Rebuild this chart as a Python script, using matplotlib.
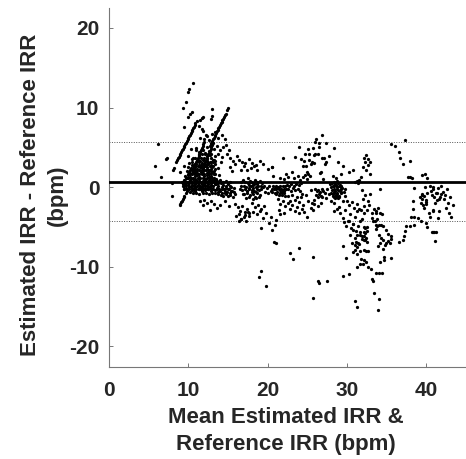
import matplotlib
matplotlib.use("Agg")
import matplotlib.pyplot as plt

plt.rcParams['font.family'] = ['Liberation Sans', 'DejaVu Sans']
plt.rcParams['axes.unicode_minus'] = False

# mean difference and limits of agreement
mean_diff = 0.7
upper_loa = 5.65
lower_loa = -4.3

# points, one list per region
sparse_left_x = [5.8, 6.17, 6.54, 7.21, 7.34, 7.97, 7.97, 8.1, 8.18, 9.35, 9.44, 9.69, 9.98, 9.98, 10.1, 10.23, 10.4, 10.61, 11.53, 11.66, 11.87, 12.9, 13.0, 13.04]
sparse_left_y = [2.68, 5.4, 1.25, 3.56, 3.68, 0.5, -1.14, 2.2, 2.35, 9.97, 7.58, 10.65, 8.76, 11.9, 12.3, 9.2, 9.4, 13.12, 8.42, 8.7, 8.76, 8.5, 9.76, 8.93]

streak_a_x = [8.5, 8.6, 8.7, 8.8, 8.9, 9.0, 9.1, 9.2, 9.3, 9.4, 9.5, 9.6, 9.7, 9.8, 9.9, 10.0, 10.1, 10.2, 10.3, 10.4, 10.5, 10.6, 10.7, 10.8, 10.9, 11.05]
streak_a_y = [3.15, 3.35, 3.6, 3.8, 4.0, 4.2, 4.4, 4.6, 4.8, 5.0, 5.2, 5.4, 5.6, 5.8, 6.0, 6.2, 6.4, 6.6, 6.8, 7.0, 7.2, 7.4, 7.6, 7.8, 8.0, 8.25]
streak_b_x = [8.9, 9.0, 9.1, 9.2, 9.3, 9.4, 9.5, 9.65, 12.7, 12.8, 12.9, 13.0, 13.1, 13.2, 13.3, 13.4, 13.5, 13.6, 13.7, 13.8, 13.9, 14.0, 14.1, 14.2, 14.3, 14.4, 14.5, 14.6, 14.7, 14.85, 15.0]
streak_b_y = [-2.3, -2.1, -1.9, -1.7, -1.5, -1.3, -1.1, -0.8, 5.2, 5.4, 5.6, 5.8, 6.0, 6.2, 6.4, 6.6, 6.8, 7.0, 7.2, 7.4, 7.6, 7.8, 8.0, 8.2, 8.4, 8.6, 8.8, 9.0, 9.2, 9.7, 10.0]
streak_c_x = [10.6, 10.7, 10.8, 10.9, 11.0, 11.1, 11.2, 11.3, 11.4, 11.5, 11.6, 11.7, 11.8, 11.9, 12.0, 11.7, 11.8, 11.9, 12.0, 12.1, 12.2, 12.3, 12.4, 12.5, 12.6, 12.7, 12.8, 12.9, 13.0, 13.1]
streak_c_y = [2.2, 2.45, 2.7, 2.95, 3.2, 3.45, 3.7, 3.95, 4.2, 4.45, 4.7, 4.95, 5.2, 5.45, 5.7, 2.2, 2.45, 2.7, 2.95, 3.2, 3.4, 3.6, 3.85, 4.1, 4.3, 4.5, 4.75, 5.0, 5.25, 5.5]

above_blob_x = [11.4, 11.7, 11.9, 12.2, 12.4, 11.5, 12.0, 12.6, 13.0, 13.4, 13.7, 14.2, 14.6, 12.3, 12.8, 13.2, 13.6, 14.0, 14.4, 14.8, 15.1, 11.0, 11.3, 12.1, 12.7, 13.3, 13.8, 14.3, 14.9, 15.3, 15.6, 15.9, 16.1, 16.4, 16.8, 17.2, 17.6, 18.0, 18.5, 19.0, 19.4, 20.0, 20.6, 16.6, 17.0, 17.4, 17.9, 18.3, 18.7, 15.2, 15.5, 14.1, 13.1, 10.3, 9.9, 10.6, 9.4, 9.0]
above_blob_y = [7.7, 7.3, 7.0, 6.6, 6.4, 6.2, 6.1, 5.9, 6.7, 6.9, 6.2, 6.6, 6.0, 5.1, 5.3, 4.8, 5.2, 4.6, 5.1, 5.3, 4.7, 4.9, 4.4, 4.3, 4.0, 3.9, 4.2, 3.8, 4.2, 3.6, 3.3, 2.9, 3.9, 3.4, 3.2, 3.0, 3.5, 3.0, 2.8, 3.3, 2.9, 2.3, 2.5, 2.1, 2.6, 2.1, 2.4, 2.7, 2.2, 2.5, 2.0, 3.2, 3.4, 4.8, 3.9, 3.6, 2.6, 1.9]

blob_x = [9.2, 9.4, 9.6, 9.8, 10.0, 10.2, 10.4, 10.6, 10.8, 11.0, 11.2, 11.4, 11.6, 11.8, 12.0, 12.2, 12.4, 12.6, 12.8, 13.0, 13.2,
          9.3, 9.5, 9.7, 9.9, 10.1, 10.3, 10.5, 10.7, 10.9, 11.1, 11.3, 11.5, 11.7, 11.9, 12.1, 12.3, 12.5, 12.7, 12.9, 13.1,
          9.6, 9.9, 10.2, 10.5, 10.8, 11.1, 11.4, 11.7, 12.0, 12.3, 12.6, 12.9, 13.2, 13.5,
          9.8, 10.1, 10.4, 10.7, 11.0, 11.3, 11.6, 11.9, 12.2, 12.5, 12.8, 13.1, 13.4,
          10.0, 10.3, 10.6, 10.9, 11.2, 11.5, 11.8, 12.1, 12.4, 12.7, 13.0, 13.3,
          10.1, 10.5, 10.9, 11.3, 11.7, 12.1, 12.5, 12.9, 13.3,
          10.4, 10.8, 11.2, 11.6, 12.0, 12.4, 12.8, 13.2,
          10.5, 10.9, 11.3, 11.7, 12.1, 12.5, 12.9, 13.3, 13.6,
          9.4, 9.8, 10.2, 10.6, 11.0, 11.4, 11.8, 12.2, 12.6, 13.0, 13.4,
          9.3, 9.7, 10.1, 10.5, 10.9, 11.3, 11.7, 12.1, 12.5, 12.9, 13.3, 13.7]
blob_y = [0.6, 0.9, 0.5, 1.1, 0.7, 0.9, 0.5, 1.0, 0.6, 0.9, 0.5, 1.0, 0.6, 0.8, 0.5, 1.0, 0.6, 0.9, 0.5, 0.9, 0.6,
          0.1, 0.2, -0.1, 0.3, 0.0, 0.2, -0.1, 0.2, 0.0, 0.1, -0.1, 0.2, 0.0, 0.2, -0.1, 0.1, 0.0, 0.2, -0.1, 0.1,
          1.4, 1.5, 1.3, 1.6, 1.4, 1.5, 1.3, 1.6, 1.4, 1.5, 1.3, 1.4, 1.2, 1.0,
          2.0, 1.9, 2.1, 1.9, 2.0, 2.1, 1.9, 2.0, 2.1, 1.9, 2.0, 1.8, 1.6,
          2.5, 2.4, 2.6, 2.5, 2.7, 2.5, 2.6, 2.7, 2.5, 2.6, 2.5, 2.3,
          3.0, 3.1, 2.9, 3.1, 3.0, 3.2, 3.0, 3.1, 2.9,
          3.5, 3.6, 3.4, 3.7, 3.6, 3.5, 3.7, 3.4,
          -0.4, -0.5, -0.3, -0.5, -0.4, -0.3, -0.5, -0.4, -0.2,
          -0.3, -0.5, -0.6, -0.8, -0.7, -0.9, -0.7, -0.8, -0.9, -0.7, -0.8,
          0.4, 0.3, 0.5, 0.3, 0.4, 0.3, 0.4, 0.3, 0.4, 0.3, 0.4, 0.5]
blob_fill_x = [9.7, 10.0, 10.3, 10.6, 10.9, 11.2, 11.5, 11.8, 12.1, 12.4, 12.7, 13.0, 13.3,
               9.9, 10.2, 10.5, 10.8, 11.1, 11.4, 11.7, 12.0, 12.3, 12.6, 12.9, 13.2,
               10.2, 10.5, 10.8, 11.1, 11.4, 11.7, 12.0, 12.3, 12.6, 12.9, 13.2,
               10.4, 10.7, 11.0, 11.3, 11.6, 11.9, 12.2, 12.5, 12.8, 13.1,
               9.6, 9.9, 10.2, 10.5, 10.8, 11.1, 11.4, 11.7, 12.0, 12.3, 12.6, 12.9, 13.2,
               9.5, 9.8, 10.1, 10.4, 10.7, 11.0, 11.3, 11.6, 11.9, 12.2, 12.5, 12.8, 13.1,
               11.1, 11.5, 11.9, 12.3, 12.7, 13.1, 11.3, 11.7, 12.1, 12.5, 12.9, 11.0, 11.8, 12.6, 13.4, 13.7, 13.9]
blob_fill_y = [1.1, 1.2, 1.1, 1.2, 1.0, 1.2, 1.1, 1.2, 1.0, 1.2, 1.1, 1.2, 0.9,
               1.7, 1.7, 1.8, 1.7, 1.8, 1.7, 1.8, 1.7, 1.8, 1.7, 1.8, 1.6,
               2.2, 2.3, 2.2, 2.3, 2.2, 2.4, 2.2, 2.3, 2.2, 2.3, 2.0,
               2.8, 2.8, 2.9, 2.8, 2.8, 2.9, 2.8, 2.9, 2.8, 2.7,
               0.8, 0.7, 0.8, 0.7, 0.8, 0.7, 0.8, 0.7, 0.8, 0.7, 0.8, 0.7, 0.8,
               -0.2, -0.3, -0.2, -0.4, -0.2, -0.3, -0.2, -0.3, -0.2, -0.3, -0.2, -0.3, -0.2,
               3.3, 3.3, 3.4, 3.3, 3.2, 3.2, 4.0, 4.1, 4.2, 4.0, 4.1, 4.6, 4.7, 4.5, 3.3, 2.4, 1.5]

band_mid_x = [13.5, 13.8, 14.1, 14.4, 14.7, 15.0, 15.3, 13.6, 13.9, 14.2, 14.5, 14.8, 15.1, 15.4, 15.7, 13.7, 14.0, 14.3, 14.6, 14.9, 15.2, 15.5, 15.8, 14.1, 14.4, 14.7, 15.0, 15.3, 15.6, 15.9, 12.0, 12.4, 12.9, 11.8, 13.2, 13.6, 11.5, 12.7, 14.0, 14.6, 15.1,
              16.6, 16.9, 17.2, 17.5, 17.8, 18.1, 18.4, 18.7, 19.0, 19.3, 16.7, 17.0, 17.3, 17.6, 17.9, 18.2, 18.5, 18.8, 19.1, 19.4, 16.8, 17.1, 17.4, 17.7, 18.0, 18.3, 18.6, 18.9, 19.2, 17.0, 17.4, 17.8, 18.2, 18.6, 19.0, 17.3, 17.7, 18.1, 18.5, 18.9, 16.5, 16.9, 19.6, 19.9, 20.2, 20.5, 19.7, 20.1, 20.4,
              13.6, 14.0, 14.4, 14.8, 15.2, 13.8, 14.2, 14.6, 15.0, 15.4, 17.5, 17.9, 18.3, 18.7, 17.7, 18.1, 18.5, 18.0, 18.4]
band_mid_y = [0.4, 0.2, 0.5, 0.3, 0.1, 0.4, 0.2, -0.1, -0.2, 0.0, -0.3, -0.1, -0.2, 0.0, -0.1, -0.6, -0.5, -0.7, -0.5, -0.6, -0.7, -0.5, -0.6, -1.0, -1.1, -0.9, -1.1, -1.0, -1.2, -0.9, -1.6, -2.0, -1.7, -2.3, -2.1, -2.6, -1.8, -2.9, -2.2, -1.7, -2.4,
              0.6, 0.9, 0.7, 1.1, 0.8, 0.5, 0.9, 0.6, 0.8, 0.5, 0.1, 0.2, 0.0, 0.3, 0.1, 0.3, 0.0, 0.2, 0.1, 0.0, -0.4, -0.3, -0.5, -0.3, -0.4, -0.5, -0.3, -0.4, -0.3, -0.9, -0.8, -1.0, -0.9, -0.8, -1.0, -1.4, -1.3, -1.5, -1.4, -1.3, -0.2, -0.9, 0.2, -0.1, 0.1, -0.2, -0.6, -0.7, -0.5,
              0.8, 0.9, 0.7, 0.8, 0.6, -0.9, -0.3, -0.8, -0.3, -0.5, 0.5, 0.6, 0.4, 0.4, -0.1, -0.1, -0.6, -0.6, -1.2]

low_mid_x = [15.9, 16.2, 16.5, 16.8, 17.1, 17.4, 17.7, 16.0, 16.4, 16.7, 17.0, 17.3, 17.6, 18.0, 18.4, 18.8, 19.2, 19.6, 18.2, 18.6, 19.0, 19.4, 19.8, 20.2, 20.4, 16.4, 16.6, 17.1, 17.5, 20.6, 20.9, 21.1, 21.5, 20.8, 19.1]
low_mid_y = [-2.1, -2.5, -3.0, -2.4, -3.1, -2.7, -3.3, -3.6, -3.4, -4.0, -3.8, -4.2, -3.6, -2.0, -2.5, -2.2, -2.8, -2.4, -3.1, -3.4, -3.0, -3.9, -3.3, -4.5, -3.7, -4.2, -4.0, -3.5, -3.1, -5.4, -4.7, -4.1, -3.4, -6.87, -5.1]
outlier_x = [21.1, 22.8, 23.2, 24.0, 25.66, 26.4, 26.5, 27.5, 25.66, 29.55, 29.85, 31.6, 31.2, 30.2, 29.5, 31.0, 31.3, 33.4, 34.05, 33.9, 19.2, 19.8, 18.9]
outlier_y = [-7.0, -8.3, -9.05, -7.7, -8.84, -11.8, -12.0, -11.8, -13.96, -7.4, -8.9, -9.7, -10.1, -10.9, -11.15, -14.3, -15.0, -13.3, -14.1, -15.4, -10.6, -12.4, -11.3]

upper_mid_x = [26.8, 26.1, 26.0, 26.5, 27.4, 23.9, 25.1, 25.7, 26.5, 28.3, 24.7, 25.15, 25.9, 26.3, 26.0, 27.7, 26.8, 27.1, 21.9, 23.4, 24.15, 24.6, 25.2, 25.6, 25.8, 25.5, 27.3, 27.2, 28.9, 24.45, 24.8, 29.5, 20.5, 26.75, 26.55, 24.9, 25.1, 24.65, 25.3, 23.1, 22.35, 22.55, 23.8, 24.45, 20.7, 30.2, 30.7, 29.3, 28.2, 32.4, 32.2, 32.6, 32.95, 32.3, 32.6, 32.0, 32.4, 32.95, 31.8, 31.25, 31.5, 31.35, 31.05, 21.5, 22.0, 23.3, 24.1, 25.0, 27.0, 28.6]
upper_mid_y = [6.6, 6.1, 5.7, 5.6, 5.5, 5.1, 4.8, 4.9, 5.0, 4.9, 4.2, 4.1, 4.0, 4.2, 4.1, 3.9, 3.6, 3.6, 3.7, 3.8, 3.5, 3.3, 3.4, 3.2, 3.0, 2.9, 3.1, 2.85, 3.1, 2.6, 2.65, 2.6, 2.5, 1.9, 1.8, 1.9, 1.7, 1.5, 1.4, 1.85, 1.65, 1.3, 1.4, 1.3, 1.4, 1.85, 2.2, 1.65, 1.4, 4.0, 3.7, 3.5, 3.2, 3.1, 2.8, 2.5, 2.15, 1.7, 1.3, 0.76, 0.9, 0.55, 0.7, 1.2, 1.0, 1.1, 0.9, 1.0, 1.0, 1.2]

band_right_x = [20.7, 21.0, 21.3, 21.6, 21.9, 22.2, 20.8, 21.1, 21.4, 21.7, 22.0, 22.3, 20.6, 20.9, 21.2, 21.5, 21.8, 22.1, 22.4, 22.7, 23.0, 23.3, 23.6, 23.9, 24.2, 22.6, 22.9, 23.2, 23.5, 23.8, 24.1, 22.5, 23.1, 23.7, 24.3, 22.8, 23.4, 24.0, 21.3, 21.6, 21.9, 22.2, 22.5, 22.8, 23.1, 23.4, 23.7, 24.0, 24.3, 24.6, 24.9, 21.4, 22.0, 24.2, 24.5, 24.8, 25.1, 25.4,
                26.0, 26.2, 26.4, 26.6, 26.8, 27.0, 26.1, 26.3, 26.5, 26.7, 26.9, 25.6, 25.8, 27.2, 27.4, 25.9, 26.3, 26.7, 25.4, 25.7,
                27.9, 28.1, 28.3, 28.5, 28.7, 28.9, 29.1, 29.3, 28.0, 28.2, 28.4, 28.6, 28.8, 29.0, 29.2, 29.4, 28.1, 28.3, 28.5, 28.7, 28.9, 29.1, 29.3, 28.2, 28.4, 28.6, 28.8, 29.0, 29.2, 28.3, 28.5, 28.7, 28.9, 27.7, 27.5, 29.6, 29.8, 29.7, 28.0, 29.5, 28.4, 29.0,
                20.9, 21.2, 21.5, 21.8, 22.1, 21.0, 21.4, 21.8, 22.2, 28.0, 28.4, 28.8, 29.2, 28.2, 28.6, 29.0]
band_right_y = [0.1, 0.2, 0.0, 0.2, 0.1, 0.2, -0.2, -0.3, -0.2, -0.3, -0.2, -0.3, -0.6, -0.7, -0.6, -0.7, -0.6, -0.8, 0.3, 0.1, 0.4, 0.2, 0.4, 0.3, 0.5, -0.2, -0.5, -0.1, -0.4, -0.2, -0.5, -1.1, -1.0, -1.3, -0.9, -1.7, -1.6, -1.9, -1.5, -2.1, -1.7, -2.4, -2.0, -2.8, -2.3, -3.0, -2.5, -3.3, -2.8, -3.1, -3.7, -2.9, -3.2, -1.3, -2.2, -1.0, -1.8, -0.4,
                -0.3, -0.5, -0.4, -0.6, -0.3, -0.5, -1.0, -1.2, -0.9, -1.1, -1.3, -2.0, -1.6, -0.8, -1.4, -2.1, -2.4, -2.0, -2.6, -2.9,
                0.4, 0.5, 0.7, 0.4, 0.8, 0.5, 0.3, 0.1, 0.0, 0.2, 0.1, 0.3, 0.0, 0.2, 0.0, -0.1, -0.4, -0.3, -0.5, -0.3, -0.4, -0.5, -0.3, -0.9, -0.8, -1.0, -0.9, -1.1, -0.8, -1.3, -1.4, -1.2, -1.4, -0.9, -0.2, -0.6, -1.1, -0.2, -1.8, -1.7, -2.0, -2.5,
                -0.1, -0.1, -0.4, -0.4, -0.5, -0.9, -1.0, -1.0, -1.1, -0.7, -0.6, -0.7, -0.6, -1.1, -1.1, -1.2]

drop_x = [28.3, 28.7, 29.1, 29.5, 29.8, 30.1, 30.4, 30.7, 31.0, 31.3, 30.0, 30.3, 30.6, 30.9, 31.2, 31.5, 29.6, 29.9, 30.2, 30.5, 30.8, 31.1, 31.4, 31.7, 30.4, 30.7, 31.0, 31.3, 31.6, 31.9, 30.6, 31.0, 31.4, 31.0, 31.3, 30.8, 31.2, 31.6, 31.1, 31.5, 31.9, 32.2, 31.8, 32.0, 32.3, 32.6, 32.9, 31.9, 32.2, 32.5, 32.8, 33.1, 33.4, 33.7, 33.3, 33.6, 33.8, 32.1, 32.3, 32.5, 32.1, 32.3, 32.5, 32.2, 32.4, 32.1, 32.3, 32.5, 31.9, 32.2, 32.4, 32.6, 31.8, 32.0, 31.7, 32.2, 32.4, 32.6]
drop_y = [-3.0, -2.7, -3.3, -3.9, -2.9, -4.3, -3.4, -4.6, -3.8, -3.0, -1.7, -2.3, -1.9, -2.6, -2.1, -2.7, -4.4, -4.9, -4.2, -5.1, -4.6, -5.5, -4.9, -4.3, -6.0, -5.4, -6.4, -6.0, -5.6, -6.5, -7.0, -7.3, -7.0, -7.9, -7.5, -8.1, -8.4, -8.0, -6.9, -7.2, -4.0, -3.3, -2.9, -1.5, -1.0, -1.7, -0.9, -0.4, -2.4, -2.9, -2.3, -3.2, -2.7, -3.3, -4.3, -4.7, -4.9, -5.0, -5.2, -5.0, -5.6, -5.8, -5.5, -6.2, -6.4, -6.7, -6.6, -6.9, -6.2, -7.9, -8.0, -8.0, -9.0, -9.6, -6.0, -9.2, -9.4, -10.0]

right_low_x = [33.05, 33.15, 33.3, 33.7, 34.0, 34.4, 34.2, 34.7, 34.7, 35.6, 33.2, 33.5, 33.8, 34.1, 34.4, 33.7, 34.0, 34.3, 34.6, 34.9, 35.2, 35.5, 34.0, 34.3, 34.6, 34.9, 35.2, 35.5, 33.9, 34.2, 34.5, 34.8, 35.4, 36.5, 33.6, 33.9, 34.1]
right_low_y = [-10.35, -11.5, -11.8, -10.85, -10.8, -10.8, -9.4, -8.75, -9.2, -8.85, -3.9, -4.2, -4.0, -0.2, -3.4, -5.3, -4.7, -4.8, -4.9, -5.4, -5.9, -6.2, -6.0, -6.4, -6.6, -7.0, -6.8, -6.5, -7.4, -7.0, -7.8, -7.3, -7.0, -6.9, -3.0, -2.6, -3.3]

far_right_x = [35.6, 36.05, 36.5, 36.7, 37.0, 37.3, 37.95, 37.65, 38.0, 38.15, 38.5, 38.3, 38.35, 38.1, 38.4, 37.45, 37.9, 38.4, 37.35, 37.2, 37.1, 39.45, 39.8, 40.05, 39.85, 40.45, 40.8, 39.2, 39.4, 39.5, 39.7, 39.9, 40.1, 39.3, 39.6, 39.9, 39.4, 39.7, 40.0, 40.6, 40.9, 41.2, 41.5, 41.8, 42.1, 40.7, 41.0, 41.3, 41.6, 41.9, 42.3, 42.6, 43.0, 41.1, 41.4, 41.7, 40.8, 41.6, 42.5, 42.9, 43.1, 42.2, 42.7, 43.4, 40.3, 41.5, 39.0, 39.3, 39.9, 40.1, 40.4, 40.9, 40.8, 41.2, 40.7, 41.0, 41.1]
far_right_y = [5.4, 5.16, 4.45, 3.7, 2.9, 5.9, 3.3, 1.3, 1.3, 1.15, -0.1, -1.75, -2.7, -3.8, -3.8, -4.85, -4.85, -4.7, -5.5, -6.15, -6.65, 1.55, 1.65, 1.1, 0.05, 0.2, 0.05, -1.2, -1.5, -0.9, -1.1, -1.6, -0.8, -2.0, -2.3, -1.9, -1.0, -2.6, -2.1, -0.5, -0.3, -0.8, -0.1, 0.2, -0.6, -1.0, -1.3, -0.7, -1.5, -0.9, -1.0, -0.3, -1.3, -2.0, -1.6, -1.2, -2.9, -3.0, -2.6, -3.3, -3.8, -1.5, -2.0, -2.3, -3.2, -3.9, -3.9, -4.2, -4.5, -5.0, -3.7, -3.0, -5.6, -5.7, -5.7, -5.6, -6.8]

xs = (sparse_left_x + streak_a_x + streak_b_x + streak_c_x + above_blob_x + blob_x + blob_fill_x + band_mid_x
      + low_mid_x + outlier_x + upper_mid_x + band_right_x + drop_x + right_low_x + far_right_x)
ys = (sparse_left_y + streak_a_y + streak_b_y + streak_c_y + above_blob_y + blob_y + blob_fill_y + band_mid_y
      + low_mid_y + outlier_y + upper_mid_y + band_right_y + drop_y + right_low_y + far_right_y)

x_ticks = [0, 10, 20, 30, 40]
y_ticks = [-20, -10, 0, 10, 20]
text_color = '#262626'

fig = plt.figure(figsize=(4.66, 4.59), dpi=100)
ax = fig.add_axes([109/466, 1 - 367/459, 357/466, 359/459])

ax.axhline(upper_loa, color='#555555', linestyle=(0, (1, 1.5)), linewidth=0.7)
ax.axhline(lower_loa, color='#555555', linestyle=(0, (1, 1.5)), linewidth=0.7)
ax.scatter(xs, ys, s=5.5, color='black', linewidths=0, zorder=3)
ax.axhline(mean_diff, color='black', linewidth=2.0, zorder=4)

ax.set_xlim(0, 45)
ax.set_ylim(-22.6, 22.5)
ax.set_xticks(x_ticks)
ax.set_yticks(y_ticks)
ax.spines['top'].set_visible(False)
ax.spines['right'].set_visible(False)
ax.spines['left'].set_color('#777777')
ax.spines['bottom'].set_color('#777777')
ax.tick_params(direction='in', length=3, width=0.7, color='#777777', labelcolor=text_color)
ax.tick_params(axis='x', pad=10)
ax.tick_params(axis='y', pad=7)
for lab in ax.get_xticklabels() + ax.get_yticklabels():
    lab.set_fontsize(15)
    lab.set_fontweight('bold')

fig.text(286/466, 1 - 431/459, "Mean Estimated IRR &\nReference IRR (bpm)", ha='center', va='center',
         fontsize=16, fontweight='bold', color=text_color, linespacing=1.4)
fig.text(44/466, 1 - 195/459, "Estimated IRR - Reference IRR\n(bpm)", ha='center', va='center', rotation=90,
         fontsize=16, fontweight='bold', color=text_color, linespacing=1.4)

fig.savefig('out.png', dpi=100)
